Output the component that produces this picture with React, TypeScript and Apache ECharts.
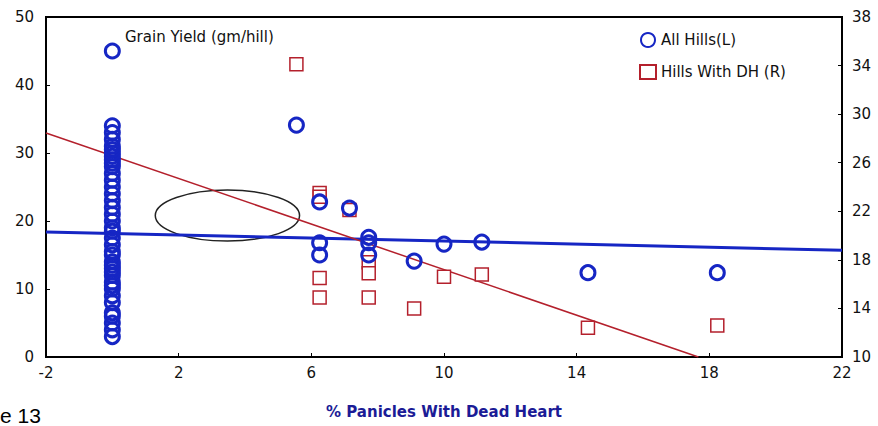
import React, { useEffect, useRef } from "react";
import * as echarts from "echarts";

// All Hills (left axis): x = % panicles with dead heart, y = grain yield
const allHillsZeroY = [3, 4, 5, 6, 6.5, 8, 9, 10, 10.5, 11, 12, 12.5, 13, 13.5, 14, 15, 15.5, 16.5, 17.5, 18.5, 19, 20, 21, 22, 23, 24, 25, 26, 27, 28, 28.5, 29, 29.5, 30, 30.5, 31, 32, 33, 34, 45];
const allHillsX = [5.55, 6.25, 6.25, 6.25, 7.15, 7.73, 7.73, 7.73, 9.1, 10.0, 11.14, 14.34, 18.24];
const allHillsY = [34.1, 22.8, 16.8, 15.0, 21.9, 17.6, 16.8, 15.0, 14.1, 16.6, 16.9, 12.4, 12.4];

// Hills With DH (right axis)
const dhX = [5.55, 6.25, 6.25, 6.25, 6.25, 7.15, 7.73, 7.73, 7.73, 9.1, 10.0, 11.14, 14.34, 18.24];
const dhY = [34.1, 23.5, 23.2, 16.5, 14.9, 22.1, 17.8, 16.9, 14.9, 14.0, 16.6, 16.8, 12.4, 12.6];

// Regression lines
const allFitX = [-2, 22];
const allFitY = [18.4, 15.7];
const dhFitX = [-2, 17.67];
const dhFitY = [28.45, 10];

// Annotation ellipse: [centerX, centerY, widthX, heightY] in left-axis units
const ellipseData = [[3.47, 20.8, 4.35, 7.5]];

const xTicks = [-2, 2, 6, 10, 14, 18, 22];
const rightTicks = [10, 14, 18, 22, 26, 30, 34, 38];

const BLUE = "#1626c4";
const RED = "#b4202c";
const FONT = "DejaVu Sans";

export default function App() {
  const ref = useRef<HTMLDivElement>(null);
  useEffect(() => {
    if (!ref.current) return;
    const chart = echarts.init(ref.current, undefined, { renderer: "svg" });
    const allPts = [
      ...allHillsZeroY.map((y) => [0, y]),
      ...allHillsX.map((x, i) => [x, allHillsY[i]]),
    ];
    const dhPts = dhX.map((x, i) => [x, dhY[i]]);
    chart.setOption({
      animation: false,
      textStyle: { fontFamily: FONT },
      grid: {
        left: 46,
        right: 36,
        top: 17,
        bottom: 69,
        show: true,
        borderColor: "#000",
        borderWidth: 2,
      },
      legend: {
        orient: "vertical",
        left: 634,
        top: 27,
        itemWidth: 16,
        itemHeight: 14,
        itemGap: 16,
        textStyle: { fontFamily: FONT, fontSize: 15, color: "#111" },
        data: ["All Hills(L)", "Hills With DH (R)"],
      },
      graphic: [
        {
          type: "text",
          left: 125,
          top: 29,
          style: { text: "Grain Yield (gm/hill)", font: `15px "${FONT}"`, fill: "#111" },
        },
        {
          type: "text",
          left: 0,
          top: 405,
          style: { text: "e 13", font: `21px "Liberation Sans"`, fill: "#000" },
        },
      ],
      xAxis: {
        type: "value",
        min: -2,
        max: 22,
        name: "% Panicles With Dead Heart",
        nameLocation: "middle",
        nameGap: 47,
        nameTextStyle: { fontFamily: FONT, fontSize: 15, fontWeight: "bold", color: "#1b1b96" },
        axisLine: { onZero: false, lineStyle: { color: "#000", width: 2 } },
        axisTick: { inside: true, length: 4, lineStyle: { color: "#000" }, customValues: xTicks },
        axisLabel: { customValues: xTicks, fontSize: 15, color: "#111", margin: 8, fontFamily: FONT },
        splitLine: { show: false },
      },
      yAxis: [
        {
          type: "value",
          min: 0,
          max: 50,
          interval: 10,
          axisLine: { show: true, onZero: false, lineStyle: { color: "#000", width: 2 } },
          axisTick: { show: true, inside: true, length: 4, lineStyle: { color: "#000" } },
          axisLabel: { fontSize: 15, color: "#111", margin: 12, fontFamily: FONT },
          splitLine: { show: false },
        },
        {
          type: "value",
          min: 10,
          max: 38,
          position: "right",
          axisLine: { show: true, onZero: false, lineStyle: { color: "#000", width: 2 } },
          axisTick: { show: true, inside: true, length: 4, lineStyle: { color: "#000" }, customValues: rightTicks },
          axisLabel: { customValues: rightTicks, fontSize: 15, color: "#111", margin: 10, fontFamily: FONT },
          splitLine: { show: false },
        },
      ],
      series: [
        {
          name: "ellipse",
          type: "custom",
          yAxisIndex: 0,
          silent: true,
          z: 1,
          renderItem: (_params: any, api: any) => {
            const c = api.coord([api.value(0), api.value(1)]);
            const s = api.size([api.value(2), api.value(3)]);
            return {
              type: "ellipse",
              shape: { cx: c[0], cy: c[1], rx: s[0] / 2, ry: s[1] / 2 },
              style: { fill: "none", stroke: "#222", lineWidth: 1.5 },
            };
          },
          data: ellipseData,
        },
        {
          name: "All Hills fit",
          type: "line",
          yAxisIndex: 0,
          symbol: "none",
          z: 3,
          lineStyle: { color: BLUE, width: 3 },
          data: allFitX.map((x, i) => [x, allFitY[i]]),
        },
        {
          name: "DH fit",
          type: "line",
          yAxisIndex: 1,
          symbol: "none",
          z: 3,
          lineStyle: { color: RED, width: 1.5 },
          data: dhFitX.map((x, i) => [x, dhFitY[i]]),
        },
        {
          name: "Hills With DH (R)",
          type: "scatter",
          yAxisIndex: 1,
          symbol: "rect",
          symbolSize: 13,
          z: 4,
          itemStyle: { color: "#fff", borderColor: RED, borderWidth: 1.5, opacity: 1 },
          data: dhPts,
        },
        {
          name: "All Hills(L)",
          type: "scatter",
          yAxisIndex: 0,
          symbol: "circle",
          symbolSize: 14,
          z: 5,
          itemStyle: { color: "rgba(255,255,255,0)", borderColor: BLUE, borderWidth: 3, opacity: 1 },
          data: allPts,
        },
      ],
    });
    return () => chart.dispose();
  }, []);
  return <div ref={ref} style={{ width: 878, height: 426, position: "absolute", left: 0, top: 0 }} />;
}
